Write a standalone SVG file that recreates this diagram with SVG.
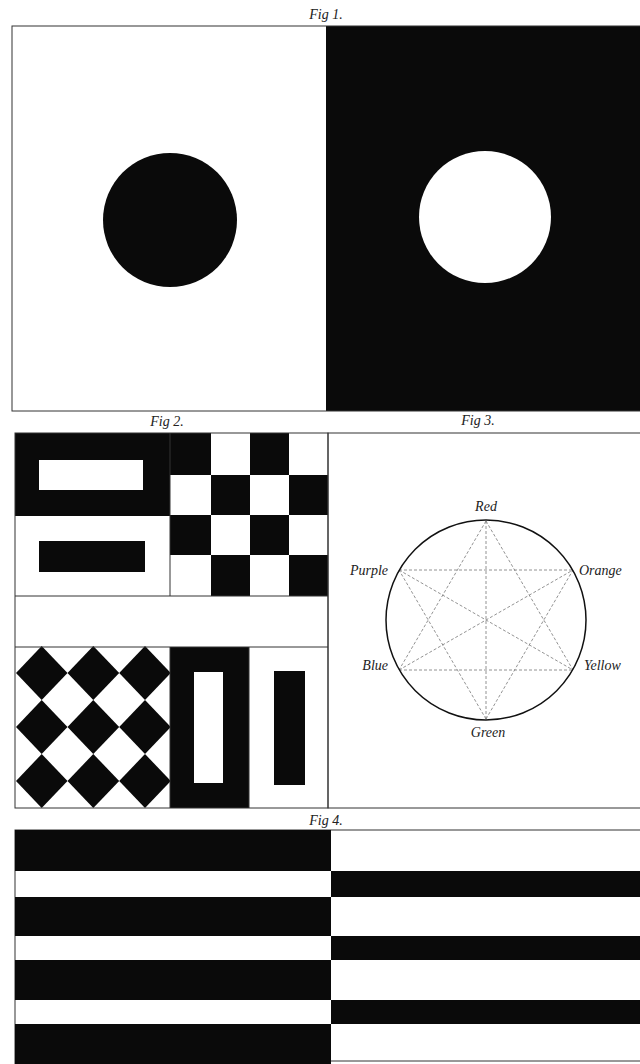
<svg xmlns="http://www.w3.org/2000/svg" width="640" height="1064" viewBox="0 0 640 1064">
<style>
.lbl{font-family:"Liberation Serif",serif;font-style:italic;font-size:14px;fill:#222}
.clr{font-family:"Liberation Serif",serif;font-style:italic;font-size:14px;fill:#222}
.frame{fill:none;stroke:#333;stroke-width:1}
.blk{fill:#0a0a0a}
.dash{stroke:#777;stroke-width:0.8;stroke-dasharray:3 2;fill:none}
</style>
<rect x="0" y="0" width="640" height="1064" fill="#fff"/>

<g id="fig1">
  <text class="lbl" x="326" y="19" text-anchor="middle">Fig 1.</text>
  <rect class="blk" x="326" y="26" width="314" height="385"/>
  <rect class="frame" x="12" y="26" width="640" height="385"/>
  <circle class="blk" cx="170" cy="220" r="67"/>
  <circle cx="485" cy="217" r="66" fill="#fff"/>
</g>

<g id="fig2">
  <text class="lbl" x="167" y="426" text-anchor="middle">Fig 2.</text>
  <rect class="blk" x="15" y="433" width="155" height="83"/>
  <rect x="39" y="460" width="104" height="30" fill="#fff"/>
  <rect class="blk" x="39" y="541" width="106" height="31"/>
  <rect class="blk" x="170" y="433" width="41" height="42"/>
  <rect class="blk" x="250" y="433" width="39" height="42"/>
  <rect class="blk" x="211" y="475" width="39" height="40"/>
  <rect class="blk" x="289" y="475" width="39" height="40"/>
  <rect class="blk" x="170" y="515" width="41" height="40"/>
  <rect class="blk" x="250" y="515" width="39" height="40"/>
  <rect class="blk" x="211" y="555" width="39" height="41"/>
  <rect class="blk" x="289" y="555" width="39" height="41"/>
  <g class="blk">
    <polygon points="41.7,646 67.5,673 41.7,700 16,673"/>
    <polygon points="93.3,646 119.2,673 93.3,700 67.5,673"/>
    <polygon points="145,646 170.8,673 145,700 119.2,673"/>
    <polygon points="41.7,700 67.5,727 41.7,754 16,727"/>
    <polygon points="93.3,700 119.2,727 93.3,754 67.5,727"/>
    <polygon points="145,700 170.8,727 145,754 119.2,727"/>
    <polygon points="41.7,754 67.5,781 41.7,808 16,781"/>
    <polygon points="93.3,754 119.2,781 93.3,808 67.5,781"/>
    <polygon points="145,754 170.8,781 145,808 119.2,781"/>
  </g>
  <rect class="blk" x="170" y="647" width="79" height="161"/>
  <rect x="194" y="672" width="29" height="111" fill="#fff"/>
  <rect class="blk" x="274" y="671" width="31" height="114"/>
  <rect class="frame" x="15" y="433" width="313" height="375"/>
  <line class="frame" x1="15" y1="596" x2="328" y2="596"/>
  <line class="frame" x1="15" y1="647" x2="328" y2="647"/>
  <line class="frame" x1="170" y1="433" x2="170" y2="596"/>
  <line class="frame" x1="170" y1="647" x2="170" y2="808"/>
  <line class="frame" x1="249" y1="647" x2="249" y2="808"/>
</g>

<g id="fig3">
  <text class="lbl" x="478" y="425" text-anchor="middle">Fig 3.</text>
  <rect class="frame" x="328" y="433" width="330" height="375"/>
  <g id="star">
    <line class="dash" x1="486" y1="521" x2="399" y2="670"/>
    <line class="dash" x1="486" y1="521" x2="573" y2="670"/>
    <line class="dash" x1="399" y1="670" x2="573" y2="670"/>
    <line class="dash" x1="486" y1="719" x2="399" y2="570"/>
    <line class="dash" x1="486" y1="719" x2="573" y2="570"/>
    <line class="dash" x1="399" y1="570" x2="573" y2="570"/>
    <line class="dash" x1="486" y1="521" x2="486" y2="719"/>
    <line class="dash" x1="399" y1="570" x2="573" y2="670"/>
    <line class="dash" x1="399" y1="670" x2="573" y2="570"/>
  </g>
  <circle cx="486" cy="620" r="100" fill="none" stroke="#111" stroke-width="1.5"/>
  <text class="clr" x="486" y="511" text-anchor="middle">Red</text>
  <text class="clr" x="388" y="575" text-anchor="end">Purple</text>
  <text class="clr" x="579" y="575">Orange</text>
  <text class="clr" x="388" y="670" text-anchor="end">Blue</text>
  <text class="clr" x="584" y="670">Yellow</text>
  <text class="clr" x="488" y="737" text-anchor="middle">Green</text>
</g>

<g id="fig4">
  <text class="lbl" x="326" y="825" text-anchor="middle">Fig  4.</text>
  <rect class="frame" x="15" y="830" width="640" height="240"/>
  <rect class="blk" x="15" y="830" width="316" height="41"/>
  <rect class="blk" x="15" y="897" width="316" height="39"/>
  <rect class="blk" x="15" y="960" width="316" height="40"/>
  <rect class="blk" x="15" y="1024" width="316" height="40"/>
  <rect class="blk" x="331" y="871" width="309" height="26"/>
  <rect class="blk" x="331" y="936" width="309" height="24"/>
  <rect class="blk" x="331" y="1000" width="309" height="24"/>
  <line class="frame" x1="331" y1="1061" x2="640" y2="1061"/>
</g>
</svg>
